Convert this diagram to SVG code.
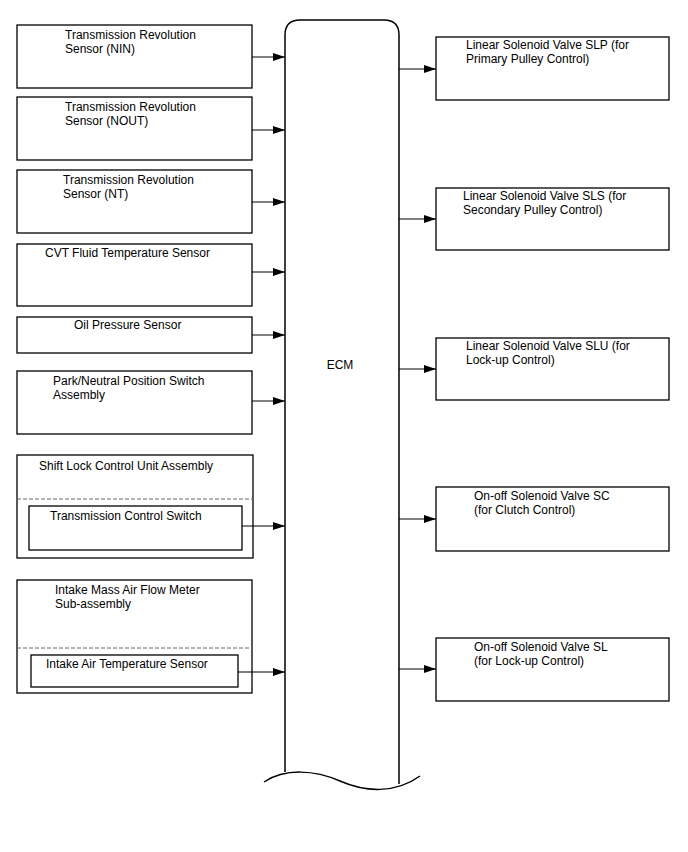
<svg xmlns="http://www.w3.org/2000/svg" width="688" height="852" viewBox="0 0 688 852">
<defs>
<marker id="arr" markerWidth="12" markerHeight="8" refX="12" refY="4" orient="auto" markerUnits="userSpaceOnUse">
<path d="M0,0 L12,4 L0,8 Z" fill="#000"/>
</marker>
<style>
.box{fill:#fff;stroke:#000;stroke-width:1.3}
.dash{stroke:#666;stroke-width:1;stroke-dasharray:4,2;fill:none}
.t{font-family:"Liberation Sans",Arial,sans-serif;font-size:12px;fill:#000}
.c{stroke:#000;stroke-width:1.2;fill:none;marker-end:url(#arr)}
</style>
</defs>
<rect width="688" height="852" fill="#fff"/>
<g id="ecm">
<path d="M285,772 L285,35 Q285,20 300,20 L384,20 Q399,20 399,35 L399,784" fill="#fff" stroke="#000" stroke-width="1.5"/>
<path d="M264,782 C285,768 315,770 340,781 S395,794 420,776" fill="none" stroke="#000" stroke-width="1.5"/>
<text class="t" x="340" y="369" text-anchor="middle">ECM</text>
</g>
<g id="nin">
<rect class="box" x="17" y="25" width="235" height="63"/>
<text class="t" x="65" y="39">Transmission Revolution</text>
<text class="t" x="65" y="53">Sensor (NIN)</text>
</g>
<g id="nout">
<rect class="box" x="17" y="97" width="235" height="63"/>
<text class="t" x="65" y="111">Transmission Revolution</text>
<text class="t" x="65" y="125">Sensor (NOUT)</text>
</g>
<g id="nt">
<rect class="box" x="17" y="170" width="235" height="63"/>
<text class="t" x="63" y="184">Transmission Revolution</text>
<text class="t" x="63" y="198">Sensor (NT)</text>
</g>
<g id="cvt">
<rect class="box" x="17" y="244" width="235" height="62"/>
<text class="t" x="45" y="257">CVT Fluid Temperature Sensor</text>
</g>
<g id="oil">
<rect class="box" x="17" y="317" width="235" height="36"/>
<text class="t" x="74" y="329">Oil Pressure Sensor</text>
</g>
<g id="pnp">
<rect class="box" x="17" y="371" width="235" height="63"/>
<text class="t" x="53" y="385">Park/Neutral Position Switch</text>
<text class="t" x="53" y="399">Assembly</text>
</g>
<g id="shiftlock">
<rect class="box" x="17" y="455" width="236" height="103"/>
<text class="t" x="39" y="470">Shift Lock Control Unit Assembly</text>
<line class="dash" x1="17" y1="499" x2="253" y2="499"/>
<g id="tcs">
<rect class="box" x="29" y="506" width="213" height="44"/>
<text class="t" x="50" y="520">Transmission Control Switch</text>
</g>
</g>
<g id="maf">
<rect class="box" x="17" y="580" width="235" height="113"/>
<text class="t" x="55" y="594">Intake Mass Air Flow Meter</text>
<text class="t" x="55" y="608">Sub-assembly</text>
<line class="dash" x1="17" y1="648" x2="252" y2="648"/>
<g id="iat">
<rect class="box" x="31" y="655" width="207" height="32"/>
<text class="t" x="46" y="668">Intake Air Temperature Sensor</text>
</g>
</g>
<g id="slp">
<rect class="box" x="436" y="37" width="233" height="63"/>
<text class="t" x="466" y="49">Linear Solenoid Valve SLP (for</text>
<text class="t" x="466" y="63">Primary Pulley Control)</text>
</g>
<g id="sls">
<rect class="box" x="436" y="188" width="233" height="62"/>
<text class="t" x="463" y="200">Linear Solenoid Valve SLS (for</text>
<text class="t" x="463" y="214">Secondary Pulley Control)</text>
</g>
<g id="slu">
<rect class="box" x="436" y="338" width="233" height="62"/>
<text class="t" x="466" y="350">Linear Solenoid Valve SLU (for</text>
<text class="t" x="466" y="364">Lock-up Control)</text>
</g>
<g id="sc">
<rect class="box" x="436" y="487" width="233" height="64"/>
<text class="t" x="474" y="500">On-off Solenoid Valve SC</text>
<text class="t" x="474" y="514">(for Clutch Control)</text>
</g>
<g id="sl">
<rect class="box" x="436" y="638" width="233" height="63"/>
<text class="t" x="474" y="651">On-off Solenoid Valve SL</text>
<text class="t" x="474" y="665">(for Lock-up Control)</text>
</g>
<g id="connectors">
<line class="c" x1="252" y1="57" x2="285" y2="57"/>
<line class="c" x1="252" y1="130" x2="285" y2="130"/>
<line class="c" x1="252" y1="202" x2="285" y2="202"/>
<line class="c" x1="252" y1="272" x2="285" y2="272"/>
<line class="c" x1="252" y1="335" x2="285" y2="335"/>
<line class="c" x1="252" y1="401" x2="285" y2="401"/>
<line class="c" x1="242" y1="526" x2="285" y2="526"/>
<line class="c" x1="238" y1="672" x2="285" y2="672"/>
<line class="c" x1="399" y1="69" x2="436" y2="69"/>
<line class="c" x1="399" y1="219" x2="436" y2="219"/>
<line class="c" x1="399" y1="369" x2="436" y2="369"/>
<line class="c" x1="399" y1="519" x2="436" y2="519"/>
<line class="c" x1="399" y1="669" x2="436" y2="669"/>
</g>
</svg>
